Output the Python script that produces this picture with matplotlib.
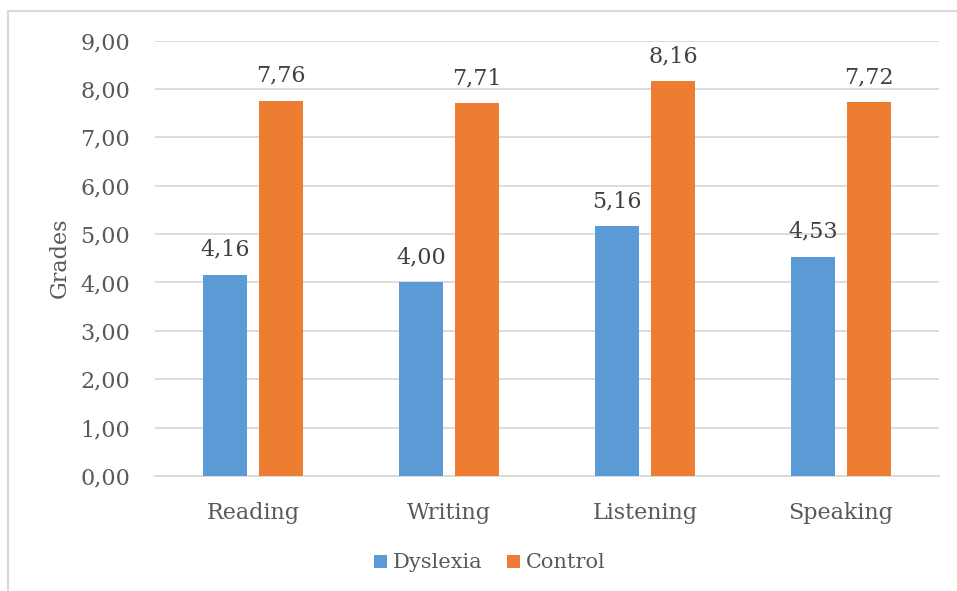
import numpy as np
import matplotlib
matplotlib.use("Agg")
import matplotlib.pyplot as plt
from matplotlib.patches import Rectangle

# Mean grades per skill
skills = ["Reading", "Writing", "Listening", "Speaking"]
dyslexia = [4.16, 4.00, 5.16, 4.53]
control = [7.76, 7.71, 8.16, 7.72]
yticks = [0, 1, 2, 3, 4, 5, 6, 7, 8, 9]

BLUE = "#5B9BD5"
ORANGE = "#ED7D31"
TEXT = "#595959"
GRID = "#D9D9D9"
FS = 16

plt.rcParams["font.family"] = ["DejaVu Serif"]


def comma(v):
    return f"{v:.2f}".replace(".", ",")


fig = plt.figure(figsize=(9.57, 5.91), dpi=100)
W, H = 957, 591

# chart frame (runs off the right and bottom edges)
fig.patches.append(Rectangle((8 / W, -0.05), 1.2, 1 - 11 / H + 0.05,
                             transform=fig.transFigure, fill=False,
                             edgecolor=GRID, lw=1.5))

ax = fig.add_axes([155 / W, 1 - 476 / H, (939 - 155) / W, (476 - 40.5) / H])

x = np.arange(len(skills))
width = 0.224
off = 0.143
b1 = ax.bar(x - off, dyslexia, width, color=BLUE, label="Dyslexia", zorder=3)
b2 = ax.bar(x + off, control, width, color=ORANGE, label="Control", zorder=3)

for bars, vals in ((b1, dyslexia), (b2, control)):
    for rect, v in zip(bars, vals):
        ax.annotate(comma(v), (rect.get_x() + rect.get_width() / 2, v),
                    xytext=(0, 10), textcoords="offset points",
                    ha="center", va="bottom", fontsize=FS, color="#404040")

ax.set_xlim(-0.5, len(skills) - 0.5)
ax.set_ylim(0, 9)
ax.set_yticks(yticks)
ax.set_yticklabels([comma(t) for t in yticks])
ax.set_xticks(x)
ax.set_xticklabels(skills)
ax.tick_params(axis="both", length=0, labelsize=FS, colors=TEXT)
ax.tick_params(axis="y", pad=18)
ax.tick_params(axis="x", pad=19)

ax.grid(axis="y", color=GRID, lw=1.3, zorder=0)
for s in ("top", "right", "left"):
    ax.spines[s].set_visible(False)
ax.spines["bottom"].set_color(GRID)
ax.spines["bottom"].set_linewidth(1.3)

ax.set_ylabel("Grades", fontsize=FS, color=TEXT, labelpad=7)

fig.legend(loc="center", bbox_to_anchor=(490 / W, 1 - 563 / H), ncol=2,
           frameon=False, fontsize=15, labelcolor=TEXT,
           handlelength=0.6, handleheight=0.6, handletextpad=0.3,
           columnspacing=1.2)

fig.savefig("out.png", dpi=100)
